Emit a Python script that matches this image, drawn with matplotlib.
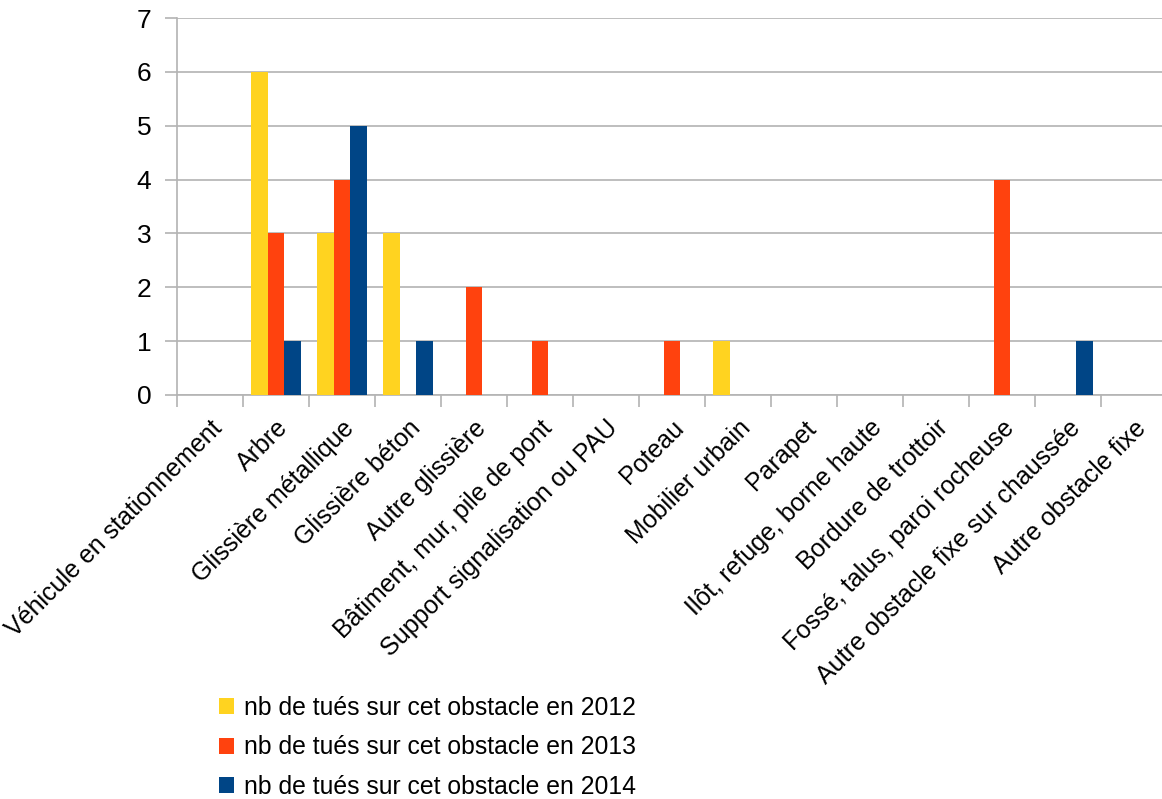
import matplotlib.pyplot as plt
import numpy as np
from matplotlib.patches import Patch

plt.rcParams['font.family'] = ['Liberation Sans', 'DejaVu Sans']

categories = ["Véhicule en stationnement", "Arbre", "Glissière métallique",
              "Glissière béton", "Autre glissière", "Bâtiment, mur, pile de pont",
              "Support signalisation ou PAU", "Poteau", "Mobilier urbain", "Parapet",
              "Ilôt, refuge, borne haute", "Bordure de trottoir",
              "Fossé, talus, paroi rocheuse", "Autre obstacle fixe sur chaussée",
              "Autre obstacle fixe"]
tues_2012 = [0, 6, 3, 3, 0, 0, 0, 0, 1, 0, 0, 0, 0, 0, 0]
tues_2013 = [0, 3, 4, 0, 2, 1, 0, 1, 0, 0, 0, 0, 4, 0, 0]
tues_2014 = [0, 1, 5, 1, 0, 0, 0, 0, 0, 0, 0, 0, 0, 1, 0]
series_labels = ["nb de tués sur cet obstacle en 2012",
                 "nb de tués sur cet obstacle en 2013",
                 "nb de tués sur cet obstacle en 2014"]
colors = ["#ffd320", "#ff420e", "#004586"]

fig = plt.figure(figsize=(11.62, 7.99), dpi=100)
ax = fig.add_axes([177/1162, 404/799, 990/1162, 377/799])

x = np.arange(len(categories))
w = 0.25
for i, vals in enumerate([tues_2012, tues_2013, tues_2014]):
    ax.bar(x + (i - 1) * w, vals, w, color=colors[i], zorder=3, linewidth=0)

ax.set_xlim(-0.5, len(categories) - 0.5)
ax.set_ylim(0, 7)
ax.set_yticks(range(0, 8))
ax.yaxis.grid(True, color="#b3b3b3", linewidth=1.2, zorder=0)

for s in ["top", "right"]:
    ax.spines[s].set_visible(False)
for s in ["left", "bottom"]:
    ax.spines[s].set_color("#b3b3b3")
    ax.spines[s].set_linewidth(1.2)

ax.set_xticks(x)
ax.set_xticklabels(categories, rotation=45, ha="right", rotation_mode="anchor", fontsize=18)
ax.tick_params(axis="x", which="major", length=0, pad=15)
ax.set_xticks(np.arange(-0.5, len(categories)), minor=True)
ax.tick_params(axis="x", which="minor", length=8.5, width=1.2, color="#b3b3b3")
ax.tick_params(axis="y", length=8.5, width=1.2, color="#b3b3b3", labelsize=19, pad=10)

handles = [Patch(facecolor=c, edgecolor="none") for c in colors]
fig.legend(handles, series_labels, loc="upper left", bbox_to_anchor=(219/1162, 1 - 696/799),
           frameon=False, fontsize=17.8, handlelength=0.62, handleheight=0.62,
           handletextpad=0.4, labelspacing=0.62, borderaxespad=0, borderpad=0)

fig.savefig("out.png", dpi=100)
